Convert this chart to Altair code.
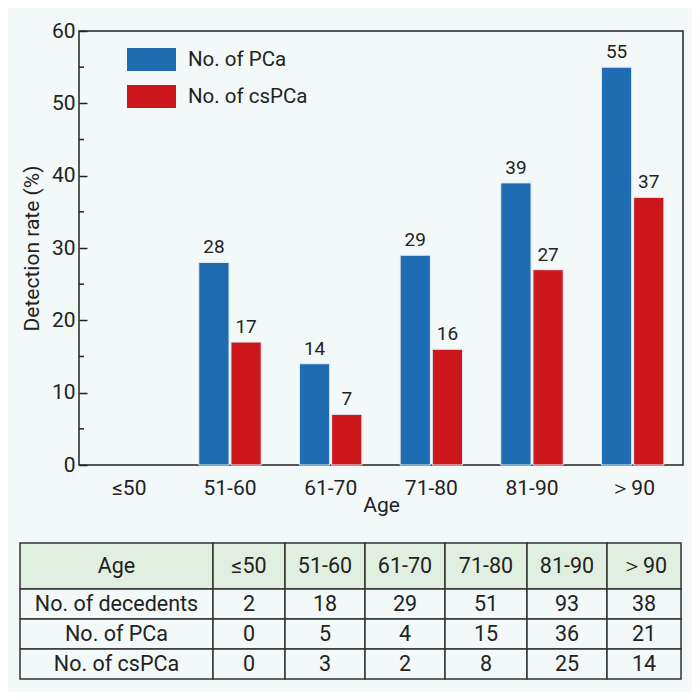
import altair as alt
import pandas as pd

# ---------------- data ----------------
ages = ["≤50", "51-60", "61-70", "71-80", "81-90", "＞90"]
series = ["No. of PCa", "No. of csPCa"]
rate_pca = [None, 28, 14, 29, 39, 55]
rate_cspca = [None, 17, 7, 16, 27, 37]
minor_ticks = [5, 15, 25, 35, 45, 55]

row_names = ["Age", "No. of decedents", "No. of PCa", "No. of csPCa"]
decedents = [2, 18, 29, 51, 93, 38]
n_pca = [0, 5, 4, 15, 36, 21]
n_cspca = [0, 3, 2, 8, 25, 14]

# ---------------- layout constants ----------------
col_widths = [193, 72, 80, 80, 82, 80, 74]
row_heights = [46, 30, 30, 30]
blue, red = "#1f6cb3", "#cc171d"
ink = "#222222"
bg = "#f3f8f8"
header_fill = "#e1efe1"

# ---------------- bar data ----------------
rows = []
for a, p, c in zip(ages, rate_pca, rate_cspca):
    if p is not None:
        rows.append({"age": a, "series": series[0], "value": p})
    if c is not None:
        rows.append({"age": a, "series": series[1], "value": c})
bars_df = pd.DataFrame(rows)
minor_df = pd.DataFrame({"value": minor_ticks})

y_axis = alt.Axis(
    values=[0, 10, 20, 30, 40, 50, 60], title="Detection rate (%)",
    offset=-8, tickSize=8, tickWidth=1.5, tickColor=ink, domain=False, grid=False,
    labelPadding=4, labelFontSize=21, labelColor=ink, titleFontSize=21,
    titleColor=ink, titleFontWeight="normal", titlePadding=9,
)
y_scale = alt.Scale(domain=[0, 60])
x_enc = alt.X(
    "age:N", sort=ages,
    scale=alt.Scale(domain=ages, paddingInner=0.38, paddingOuter=0.19),
    axis=alt.Axis(title="Age", labelFontSize=21, titleFontSize=21, ticks=False,
                  domain=False, labelPadding=12, titlePadding=-4, labelAngle=0,
                  titleFontWeight="normal", labelColor=ink, titleColor=ink),
)
xoff = alt.XOffset("series:N", sort=series,
                   scale=alt.Scale(domain=series, paddingInner=0.06))

bars = alt.Chart(bars_df).mark_bar(stroke="#e4edf5", strokeWidth=1).encode(
    x=x_enc,
    xOffset=xoff,
    y=alt.Y("value:Q", scale=y_scale, axis=y_axis),
    color=alt.Color(
        "series:N", sort=series,
        scale=alt.Scale(domain=series, range=[blue, red]),
        legend=alt.Legend(
            title=None, orient="none", legendX=48, legendY=4, padding=0,
            symbolType="M-1,-0.47H1V0.47H-1Z", symbolSize=2401,
            symbolStrokeWidth=0, symbolOpacity=1, labelFontSize=20.5,
            labelColor=ink, labelOffset=12, rowPadding=-2,
        ),
    ),
)

labels = alt.Chart(bars_df).mark_text(
    baseline="alphabetic", dy=-9, fontSize=19, color=ink
).encode(
    x=x_enc,
    xOffset=xoff,
    y=alt.Y("value:Q", scale=y_scale, axis=y_axis),
    text=alt.Text("value:Q"),
)

minor = alt.Chart(minor_df).mark_rule(color=ink, strokeWidth=1.5).encode(
    y=alt.Y("value:Q", scale=y_scale, axis=y_axis),
    x=alt.value(0),
    x2=alt.value(5),
)

bar_layer = alt.layer(bars, minor, labels)

# ---------------- table ----------------
table_rows = [ages, decedents, n_pca, n_cspca]
x_edges = [0]
for w in col_widths:
    x_edges.append(x_edges[-1] + w)
y_edges = [0]
for h in row_heights:
    y_edges.append(y_edges[-1] + h)

cells = []
for r, (name, vals) in enumerate(zip(row_names, table_rows)):
    texts = [name] + [str(v) for v in vals]
    for c, t in enumerate(texts):
        cells.append({
            "x0": x_edges[c], "x1": x_edges[c + 1],
            "y0": y_edges[r], "y1": y_edges[r + 1],
            "xc": (x_edges[c] + x_edges[c + 1]) / 2,
            "yc": (y_edges[r] + y_edges[r + 1]) / 2,
            "text": t,
            "fill": header_fill if r == 0 else bg,
        })
cells_df = pd.DataFrame(cells)

tx_scale = alt.Scale(domain=[0, x_edges[-1]], range=[-59, 602])
ty_scale = alt.Scale(domain=[0, y_edges[-1]], range=[512, 648])

cell_rects = alt.Chart(cells_df).mark_rect(stroke="#333333", strokeWidth=1.5).encode(
    x=alt.X("x0:Q", scale=tx_scale, axis=None),
    x2="x1:Q",
    y=alt.Y("y0:Q", scale=ty_scale, axis=None),
    y2="y1:Q",
    fill=alt.Fill("fill:N", scale=None),
)
cell_text = alt.Chart(cells_df).mark_text(fontSize=21.5, color=ink, baseline="middle", dy=1).encode(
    x=alt.X("xc:Q", scale=tx_scale, axis=None),
    y=alt.Y("yc:Q", scale=ty_scale, axis=None),
    text="text:N",
)
table_layer = alt.layer(cell_rects, cell_text)

chart = alt.layer(bar_layer, table_layer).resolve_scale(
    x="independent", y="independent"
).properties(
    width=604, height=434,
    padding={"left": 71, "top": 23, "right": 9, "bottom": 227},
    autosize=alt.AutoSizeParams(type="none"),
).configure(
    background=bg, font="Roboto",
).configure_view(
    stroke=ink, strokeWidth=1.5,
)

chart.save("out.html", embed_options={"renderer": "svg", "actions": False})
